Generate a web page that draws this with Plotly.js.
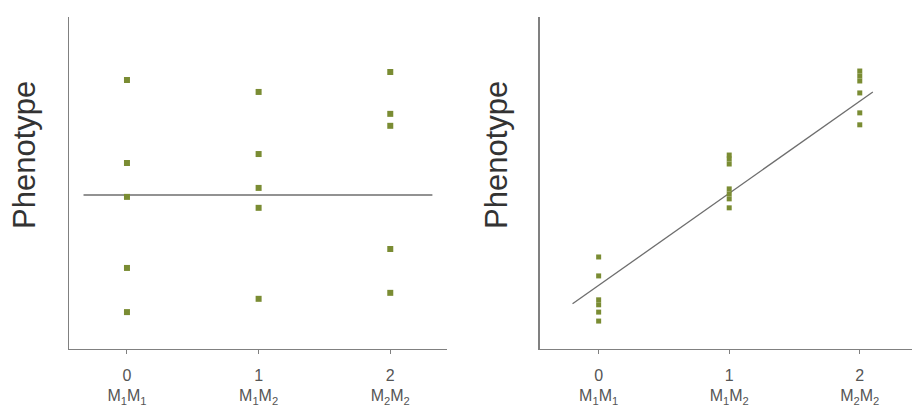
<!DOCTYPE html>
<html>
<head>
<meta charset="utf-8">
<script src="https://cdn.plot.ly/plotly-3.0.1.min.js"></script>
<style>html,body{margin:0;padding:0;background:#fff;}#chart{width:912px;height:412px;}</style>
</head>
<body>
<div id="chart"></div>
<script>
// Tick positions and labels (genotype coding)
var tickVals = [0, 1, 2];
var tickLabels = ["0<br>M<sub>1</sub>M<sub>1</sub>", "1<br>M<sub>1</sub>M<sub>2</sub>", "2<br>M<sub>2</sub>M<sub>2</sub>"];

// Left panel: no association
var leftX = [0,0,0,0,0, 1,1,1,1,1, 2,2,2,2,2];
var leftY = [8.10,5.60,4.58,2.44,1.11, 7.74,5.87,4.85,4.25,1.51, 8.34,7.08,6.72,3.01,1.69];
var leftLineX = [-0.33, 2.32];
var leftLineY = [4.64, 4.64];

// Right panel: additive association
var rightX = [0,0,0,0,0,0, 1,1,1,1,1,1,1, 2,2,2,2,2,2];
var rightY = [2.77,2.20,1.48,1.33,1.11,0.84, 5.84,5.72,5.57,4.82,4.67,4.52,4.25, 8.37,8.22,8.07,7.71,7.11,6.75];
var rightLineX = [-0.2, 2.1];
var rightLineY = [1.36, 7.74];

var dotColor = '#7a8c33';
var lineColor = '#6e6e6e';
var axisColor = '#808080';
var fontFam = 'Liberation Sans, Arial, sans-serif';

var traces = [
  {x: leftLineX, y: leftLineY, type: 'scatter', mode: 'lines', line: {color: lineColor, width: 1.5}, xaxis: 'x', yaxis: 'y', hoverinfo: 'skip'},
  {x: leftX, y: leftY, type: 'scatter', mode: 'markers', marker: {symbol: 'square', size: 6, color: dotColor}, xaxis: 'x', yaxis: 'y'},
  {x: rightLineX, y: rightLineY, type: 'scatter', mode: 'lines', line: {color: lineColor, width: 1.3}, xaxis: 'x2', yaxis: 'y2', hoverinfo: 'skip'},
  {x: rightX, y: rightY, type: 'scatter', mode: 'markers', marker: {symbol: 'square', size: 5, color: dotColor}, xaxis: 'x2', yaxis: 'y2'}
];

function xAxis(domain, range) {
  return {
    domain: domain, range: range, showline: true, linecolor: axisColor, linewidth: 1.5,
    showgrid: false, zeroline: false, ticks: 'outside', ticklen: 4, tickcolor: axisColor,
    ticklabelstandoff: 7,
    tickvals: tickVals, ticktext: tickLabels, tickfont: {family: fontFam, size: 16, color: '#555'},
    fixedrange: true
  };
}
function yAxis(anchor) {
  return {
    domain: [0.153, 0.959], range: [0, 10], showline: true, linecolor: axisColor, linewidth: 1.5,
    showgrid: false, zeroline: false, ticks: '', showticklabels: false, anchor: anchor, fixedrange: true
  };
}

var layout = {
  width: 912, height: 412,
  margin: {l: 0, r: 0, t: 0, b: 0},
  paper_bgcolor: '#fff', plot_bgcolor: '#fff',
  showlegend: false,
  xaxis: Object.assign(xAxis([0.0757, 0.490], [-0.44, 2.43]), {anchor: 'y'}),
  yaxis: yAxis('x'),
  xaxis2: Object.assign(xAxis([0.592, 1.0], [-0.45, 2.40]), {anchor: 'y2'}),
  yaxis2: yAxis('x2'),
  annotations: [
    {text: 'Phenotype', textangle: -90, xref: 'paper', yref: 'paper', x: 25/912, y: 1 - 155/412,
     showarrow: false, xanchor: 'center', yanchor: 'middle', font: {family: fontFam, size: 31, color: '#333'}},
    {text: 'Phenotype', textangle: -90, xref: 'paper', yref: 'paper', x: 497/912, y: 1 - 155/412,
     showarrow: false, xanchor: 'center', yanchor: 'middle', font: {family: fontFam, size: 31, color: '#333'}}
  ]
};

Plotly.newPlot('chart', traces, layout, {displayModeBar: false, staticPlot: true});
</script>
</body>
</html>
